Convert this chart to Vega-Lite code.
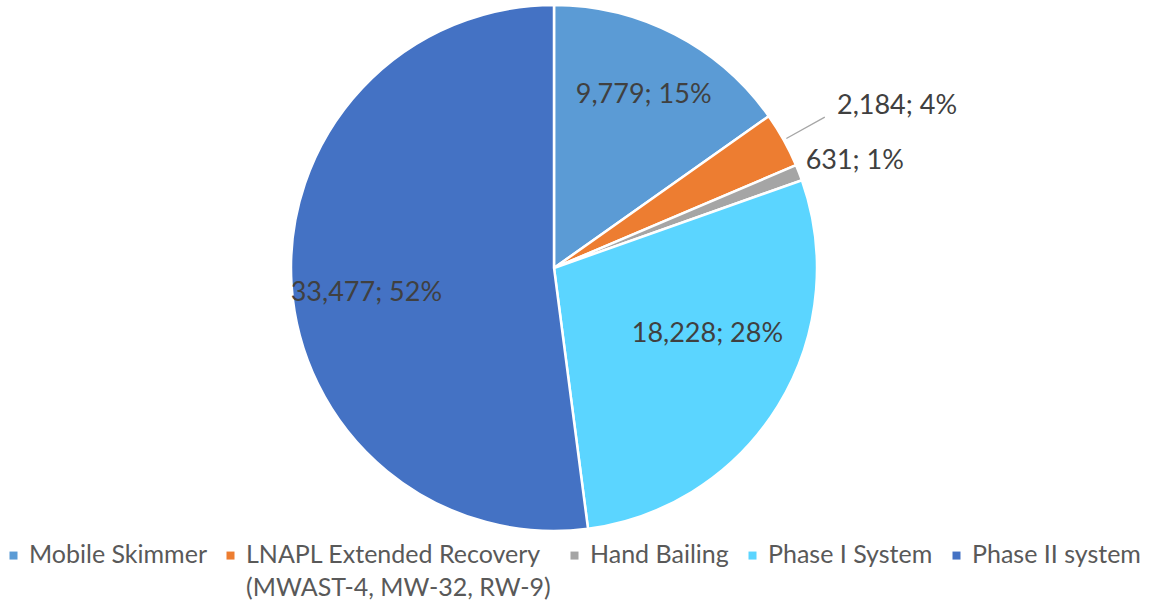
{
  "$schema": "https://vega.github.io/schema/vega-lite/v6.json",
  "width": 1108,
  "height": 536,
  "autosize": {"type": "none"},
  "padding": {"left": 0, "top": 0, "right": 41, "bottom": 73},
  "background": "white",
  "config": {
    "view": {"stroke": null},
    "font": "Lato",
    "style": {"guide-label": {"lineHeight": 33}}
  },
  "data": {
    "values": [
      {"idx": 1, "system": "Mobile Skimmer", "gallons": 9779, "label": "9,779; 15%"},
      {"idx": 2, "system": "LNAPL Extended Recovery (MWAST-4, MW-32, RW-9)", "gallons": 2184, "label": "2,184; 4%"},
      {"idx": 3, "system": "Hand Bailing", "gallons": 631, "label": "631; 1%"},
      {"idx": 4, "system": "Phase I System", "gallons": 18228, "label": "18,228; 28%"},
      {"idx": 5, "system": "Phase II system", "gallons": 33477, "label": "33,477; 52%"}
    ]
  },
  "encoding": {
    "theta": {"field": "gallons", "type": "quantitative", "stack": true},
    "order": {"field": "idx", "type": "quantitative"}
  },
  "layer": [
    {
      "mark": {"type": "arc", "outerRadius": 263, "stroke": "white", "strokeWidth": 2.5},
      "encoding": {
        "color": {
          "field": "system",
          "type": "nominal",
          "scale": {
            "domain": ["Mobile Skimmer", "LNAPL Extended Recovery (MWAST-4, MW-32, RW-9)", "Hand Bailing", "Phase I System", "Phase II system"],
            "range": ["#5B9BD5", "#ED7D31", "#A5A5A5", "#5BD5FF", "#4472C4"]
          },
          "legend": {
            "title": null,
            "orient": "none",
            "direction": "horizontal",
            "legendX": 1,
            "legendY": 530,
            "columns": 5,
            "symbolType": "M-1,2.2H1V4.2H-1Z",
            "symbolSize": 64,
            "symbolStrokeWidth": 0,
            "labelFontSize": 25,
            "labelColor": "#595959",
            "labelFont": "Lato",
            "labelLimit": 500,
            "labelBaseline": "top",
            "labelOffset": 3,
            "columnPadding": 11,
            "labelExpr": "datum.label == 'LNAPL Extended Recovery (MWAST-4, MW-32, RW-9)' ? ['LNAPL Extended Recovery', '(MWAST-4, MW-32, RW-9)'] : [datum.label, ' ']"
          }
        }
      }
    },
    {
      "mark": {"type": "arc", "radius": 310, "radius2": 266, "padAngle": 0.6, "fill": null, "stroke": "#A6A6A6", "strokeWidth": 1.3},
      "encoding": {
        "strokeOpacity": {"condition": {"test": "datum.idx == 2", "value": 1}, "value": 0}
      }
    },
    {
      "mark": {"type": "text", "radius": 195, "fontSize": 27, "color": "#404040", "font": "Lato"},
      "encoding": {
        "text": {"condition": {"test": "datum.idx == 1", "field": "label"}, "value": ""}
      }
    },
    {
      "mark": {"type": "text", "radius": 180, "dy": -28, "fontSize": 27, "color": "#404040", "font": "Lato"},
      "encoding": {
        "text": {"condition": {"test": "datum.idx == 4", "field": "label"}, "value": ""}
      }
    },
    {
      "mark": {"type": "text", "radius": 188, "dy": 13, "fontSize": 27, "color": "#404040", "font": "Lato"},
      "encoding": {
        "text": {"condition": {"test": "datum.idx == 5", "field": "label"}, "value": ""}
      }
    },
    {
      "mark": {"type": "text", "radius": 324, "dy": -4, "fontSize": 27, "color": "#404040", "font": "Lato", "align": "left"},
      "encoding": {
        "text": {"condition": {"test": "datum.idx == 2", "field": "label"}, "value": ""}
      }
    },
    {
      "mark": {"type": "text", "radius": 270, "dy": -9, "fontSize": 27, "color": "#404040", "font": "Lato", "align": "left"},
      "encoding": {
        "text": {"condition": {"test": "datum.idx == 3", "field": "label"}, "value": ""}
      }
    }
  ]
}
